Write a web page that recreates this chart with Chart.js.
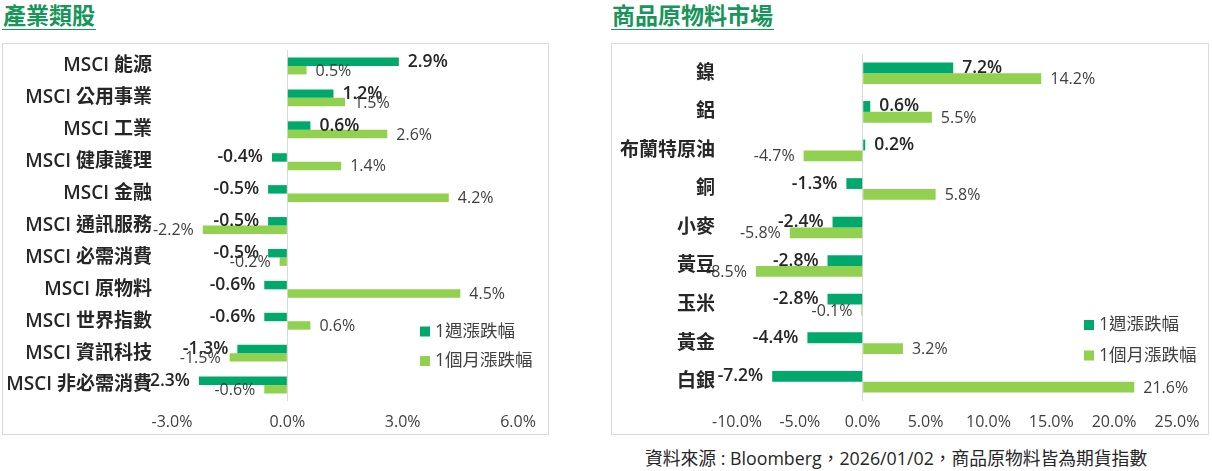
<!DOCTYPE html>
<html>
<head>
<meta charset="utf-8">
<script src="https://cdn.jsdelivr.net/npm/chart.js@4.4.1/dist/chart.umd.min.js"></script>
<style>
  html,body{margin:0;padding:0;}
  body{width:1212px;height:471px;background:#fff;position:relative;overflow:hidden;
       font-family:"Open Sans","Noto Sans CJK TC",sans-serif;}
  .title{position:absolute;top:1px;font-size:23px;font-weight:bold;color:#18955a;
         line-height:27px;padding:0 1px 1px 1px;border-bottom:1.5px solid #18955a;
         font-family:"Noto Sans CJK TC",sans-serif;}
  .panel{position:absolute;top:43px;height:392px;border:1px solid #d9d9d9;box-sizing:border-box;}
  .wrap{position:absolute;top:0;}
  .footer{position:absolute;left:645px;top:446px;font-size:17.8px;line-height:24px;color:#262626;white-space:nowrap;}
</style>
</head>
<body>
<div class="title" style="left:2px;">產業類股</div>
<div class="title" style="left:611px;">商品原物料市場</div>
<div class="panel" style="left:2px;width:547px;"></div>
<div class="panel" style="left:611px;width:598px;"></div>
<div class="wrap" style="left:0;width:560px;height:440px;"><canvas id="c1" width="560" height="440"></canvas></div>
<div class="wrap" style="left:600px;width:612px;height:440px;"><canvas id="c2" width="612" height="440"></canvas></div>
<div class="footer">資料來源 : Bloomberg，2026/01/02，商品原物料皆為期貨指數</div>
<script>
// ---- data ----
const seriesNames = ['1週漲跌幅', '1個月漲跌幅'];

const sectorCategories = ['MSCI 能源','MSCI 公用事業','MSCI 工業','MSCI 健康護理','MSCI 金融','MSCI 通訊服務','MSCI 必需消費','MSCI 原物料','MSCI 世界指數','MSCI 資訊科技','MSCI 非必需消費'];
const sectorWeek  = [2.9, 1.2, 0.6, -0.4, -0.5, -0.5, -0.5, -0.6, -0.6, -1.3, -2.3];
const sectorMonth = [0.5, 1.5, 2.6, 1.4, 4.2, -2.2, -0.2, 4.5, 0.6, -1.5, -0.6];
const sectorAxis  = {min: -3, max: 6, step: 3};

const commodityCategories = ['鎳','鋁','布蘭特原油','銅','小麥','黃豆','玉米','黃金','白銀'];
const commodityWeek  = [7.2, 0.6, 0.2, -1.3, -2.4, -2.8, -2.8, -4.4, -7.2];
const commodityMonth = [14.2, 5.5, -4.7, 5.8, -5.8, -8.5, -0.1, 3.2, 21.6];
const commodityAxis  = {min: -10, max: 25, step: 5};

// ---- styles ----
const FONT = '"Open Sans","Noto Sans CJK TC",sans-serif';
const COLORS = ['#00a96b', '#92d050'];
const LABEL_STYLE = [
  {font: '600 17.5px ' + FONT, color: '#262626', gap: 9, dy: 0},
  {font: '16px ' + FONT, color: '#404040', gap: 9, dy: 1}
];

const valueLabels = {
  id: 'valueLabels',
  afterDatasetsDraw(chart) {
    const ctx = chart.ctx;
    chart.data.datasets.forEach((ds, i) => {
      const meta = chart.getDatasetMeta(i);
      const st = LABEL_STYLE[i];
      ctx.save();
      ctx.font = st.font;
      ctx.fillStyle = st.color;
      ctx.textBaseline = 'middle';
      meta.data.forEach((bar, j) => {
        const v = ds.data[j];
        const txt = v.toFixed(1) + '%';
        if (v >= 0) { ctx.textAlign = 'left'; ctx.fillText(txt, bar.x + st.gap, bar.y + st.dy); }
        else { ctx.textAlign = 'right'; ctx.fillText(txt, bar.x - st.gap, bar.y + st.dy); }
      });
      ctx.restore();
    });
  }
};

const boxLegend = {
  id: 'boxLegend',
  afterDraw(chart, args, opts) {
    const ctx = chart.ctx;
    ctx.save();
    ctx.font = '17.5px ' + FONT;
    ctx.textBaseline = 'middle';
    ctx.textAlign = 'left';
    chart.data.datasets.forEach((ds, i) => {
      const cy = opts.y + i * opts.gap;
      ctx.fillStyle = ds.backgroundColor;
      ctx.fillRect(opts.x, cy - 5, 10, 10);
      ctx.fillStyle = '#404040';
      ctx.fillText(ds.label, opts.x + 15, cy + 0.5);
    });
    ctx.restore();
  }
};

function makeChart(id, cats, week, month, axis, cfg) {
  return new Chart(document.getElementById(id), {
    type: 'bar',
    data: {
      labels: cats,
      datasets: [
        {label: seriesNames[0], data: week, backgroundColor: COLORS[0], barPercentage: 1, categoryPercentage: cfg.catPct},
        {label: seriesNames[1], data: month, backgroundColor: COLORS[1], barPercentage: 1, categoryPercentage: cfg.catPct}
      ]
    },
    options: {
      indexAxis: 'y',
      responsive: false,
      animation: false,
      layout: {padding: {top: cfg.top, right: cfg.right, left: 0, bottom: 0}},
      plugins: {
        legend: {display: false},
        tooltip: {enabled: false},
        boxLegend: cfg.legend
      },
      scales: {
        x: {
          min: axis.min, max: axis.max,
          ticks: {stepSize: axis.step, padding: 12, color: '#404040',
                  font: {family: FONT, size: 16},
                  callback: v => Number(v).toFixed(1) + '%'},
          grid: {drawTicks: false, lineWidth: 1,
                 color: c => (c.tick && c.tick.value === 0) ? '#d9d9d9' : 'rgba(0,0,0,0)'},
          border: {display: false},
          afterFit: s => { s.height = 440 - 401; }
        },
        y: {
          ticks: {padding: cfg.yPad, color: '#262626', font: {family: FONT, size: 19, weight: '600'}},
          grid: {display: false},
          border: {display: false},
          afterFit: s => { s.width = cfg.yWidth; }
        }
      }
    },
    plugins: [valueLabels, boxLegend]
  });
}

makeChart('c1', sectorCategories, sectorWeek, sectorMonth, sectorAxis,
  {catPct: 0.53, top: 50, right: 42, yWidth: 172, yPad: 12, legend: {x: 420, y: 331.5, gap: 29.5}});
makeChart('c2', commodityCategories, commodityWeek, commodityMonth, commodityAxis,
  {catPct: 0.56, top: 54, right: 35, yWidth: 137, yPad: 14, legend: {x: 484, y: 325, gap: 30.5}});
</script>
</body>
</html>
